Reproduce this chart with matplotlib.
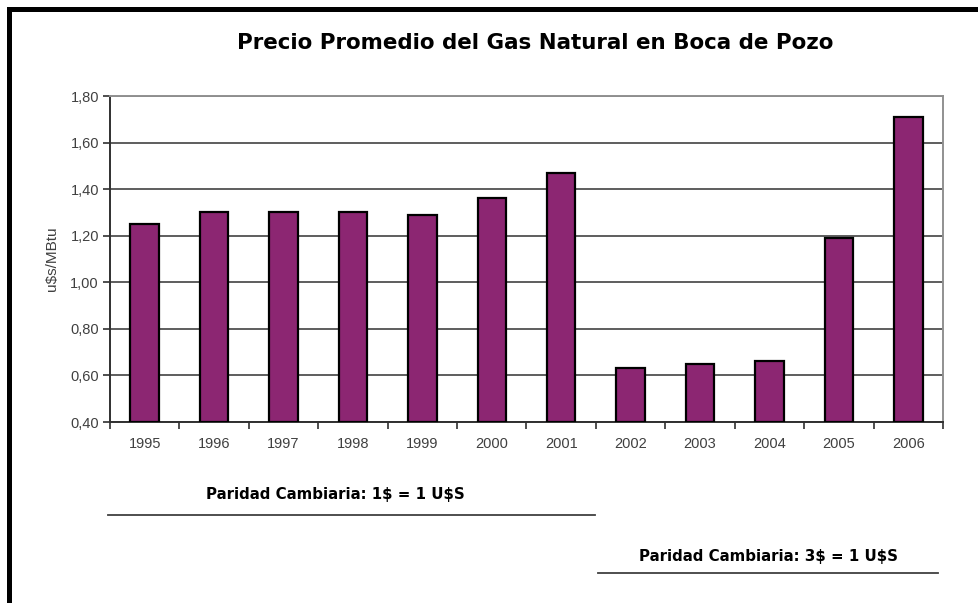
import matplotlib
matplotlib.use("Agg")
from matplotlib import pyplot as plt
from matplotlib.lines import Line2D
import numpy as np

plt.rcParams['font.family'] = ['Liberation Sans', 'DejaVu Sans']

years = ["1995", "1996", "1997", "1998", "1999", "2000",
         "2001", "2002", "2003", "2004", "2005", "2006"]
price = [1.25, 1.30, 1.30, 1.30, 1.29, 1.36, 1.47, 0.63, 0.65, 0.66, 1.19, 1.71]
y_ticks = [0.40, 0.60, 0.80, 1.00, 1.20, 1.40, 1.60, 1.80]

W, H = 979, 603
fig = plt.figure(figsize=(W / 100, H / 100), dpi=100)
ax = fig.add_axes([110 / W, 1 - 422 / H, (943 - 110) / W, (422 - 96) / H])

pos = np.arange(len(years)) + 0.5
ax.bar(pos, np.array(price) - 0.40, bottom=0.40, width=0.41,
       color="#8C2672", edgecolor="black", linewidth=1.6, zorder=3)

ax.set_xlim(0, len(years))
ax.set_ylim(0.40, 1.80)
ax.set_yticks(y_ticks)
ax.set_yticklabels([f"{v:.2f}".replace(".", ",") for v in y_ticks])
ax.yaxis.grid(True, color="#505050", linewidth=1.3, zorder=0)

ax.set_xticks(np.arange(len(years) + 1))
ax.set_xticklabels([])
ax.set_xticks(pos, minor=True)
ax.set_xticklabels(years, minor=True)
ax.tick_params(axis="x", which="major", length=5, width=1.2, color="#303030", direction="out")
ax.tick_params(axis="x", which="minor", length=0, pad=11, labelsize=10.5, labelcolor="#404040")
ax.tick_params(axis="y", length=5, width=1.2, color="#303030", labelsize=10.5,
               labelcolor="#404040", pad=3)

ax.spines["left"].set_color("#303030")
ax.spines["left"].set_linewidth(1.4)
ax.spines["bottom"].set_color("#303030")
ax.spines["bottom"].set_linewidth(1.4)
ax.spines["top"].set_color("#909090")
ax.spines["top"].set_linewidth(1.4)
ax.spines["right"].set_color("#909090")
ax.spines["right"].set_linewidth(1.4)

ax.set_ylabel(r"u\$s/MBtu", fontsize=11, color="#404040", labelpad=8)

bold = ["DejaVu Sans"]
fig.text(535 / W, 1 - 43 / H, "Precio Promedio del Gas Natural en Boca de Pozo",
         ha="center", va="center", fontsize=15.4, fontweight="bold", family=bold)

fig.text(335 / W, 1 - 494 / H, r"Paridad Cambiaria: 1\$ = 1 U\$S",
         ha="center", va="center", fontsize=10.8, fontweight="bold", family=bold)
fig.add_artist(Line2D([108 / W, 595 / W], [1 - 515 / H, 1 - 515 / H],
                      color="#404040", linewidth=1.3))
fig.text(769 / W, 1 - 556 / H, r"Paridad Cambiaria: 3\$ = 1 U\$S",
         ha="center", va="center", fontsize=10.8, fontweight="bold", family=bold)
fig.add_artist(Line2D([598 / W, 938 / W], [1 - 573 / H, 1 - 573 / H],
                      color="#404040", linewidth=1.3))

# black frame on the left and top
fig.add_artist(plt.Rectangle((7 / W, 0), 5 / W, 1 - 7 / H, transform=fig.transFigure,
                             color="black", lw=0))
fig.add_artist(plt.Rectangle((7 / W, 1 - 12 / H), 1, 5 / H, transform=fig.transFigure,
                             color="black", lw=0))

plt.savefig("out.png", dpi=100)
